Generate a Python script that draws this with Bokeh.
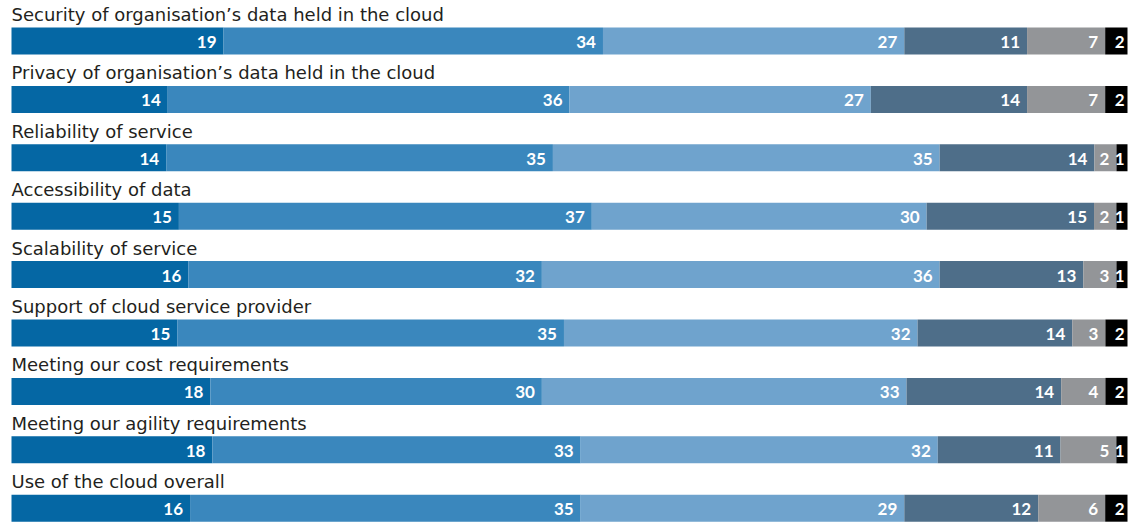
from bokeh.plotting import figure
from bokeh.models import ColumnDataSource, Range1d
from bokeh.core.properties import value
from bokeh.embed import file_html
from bokeh.resources import INLINE

# Survey aspects, top to bottom
categories = [
    "Security of organisation\u2019s data held in the cloud",
    "Privacy of organisation\u2019s data held in the cloud",
    "Reliability of service",
    "Accessibility of data",
    "Scalability of service",
    "Support of cloud service provider",
    "Meeting our cost requirements",
    "Meeting our agility requirements",
    "Use of the cloud overall",
]

# Response shares (%) per answer level, one list per level
level_1 = [19, 14, 14, 15, 16, 15, 18, 18, 16]
level_2 = [34, 36, 35, 37, 32, 35, 30, 33, 35]
level_3 = [27, 27, 35, 30, 36, 32, 33, 32, 29]
level_4 = [11, 14, 14, 15, 13, 14, 14, 11, 12]
level_5 = [7, 7, 2, 2, 3, 3, 4, 5, 6]
level_6 = [2, 2, 1, 1, 1, 2, 2, 1, 2]

levels = [level_1, level_2, level_3, level_4, level_5, level_6]
colors = ["#0567a4", "#3a87bd", "#6fa3cd", "#4e6e89", "#939598", "#000000"]

W, H = 1142, 522
x0_px, x1_px = 11, 1127
unit = (x1_px - x0_px) / 100.0

p = figure(width=W, height=H, output_backend="svg", toolbar_location=None,
           x_range=Range1d(-x0_px / unit, 100 + (W - x1_px) / unit),
           y_range=Range1d(H, 0), min_border=0)
p.axis.visible = False
p.grid.visible = False
p.outline_line_color = None
p.background_fill_color = "white"
p.border_fill_color = "white"

row_y = [40.5 + i * 58.4 for i in range(len(categories))]
bar_h = 27

# Each row is scaled to its own total so every bar spans the full width
totals = [sum(lv[i] for lv in levels) for i in range(len(categories))]

cum = [0.0] * len(categories)
for k, (lv, col) in enumerate(zip(levels, colors)):
    left = [cum[i] for i in range(len(categories))]
    right = [cum[i] + lv[i] * 100.0 / totals[i] for i in range(len(categories))]
    cum = right
    src = ColumnDataSource(dict(y=row_y, left=left, right=right,
                                txt=[str(v) for v in lv]))
    p.hbar(y="y", left="left", right="right", height=bar_h, source=src,
           fill_color=col, line_color=None)
    pad = -3 if k == len(levels) - 1 else -7
    p.text(x="right", y="y", text="txt", source=src, x_offset=pad, y_offset=1,
           text_align="right", text_baseline="middle", text_color="white",
           text_font=value("Lato"), text_font_style="bold", text_font_size="17px")

lab = ColumnDataSource(dict(x=[0] * len(categories),
                            y=[y - 26.5 for y in row_y],
                            t=categories))
p.text(x="x", y="y", text="t", source=lab, text_align="left",
       text_baseline="middle", text_color="#231f20",
       text_font=value("DejaVu Sans"), text_font_size="18px")

open("out.html", "w").write(file_html(p, INLINE))
